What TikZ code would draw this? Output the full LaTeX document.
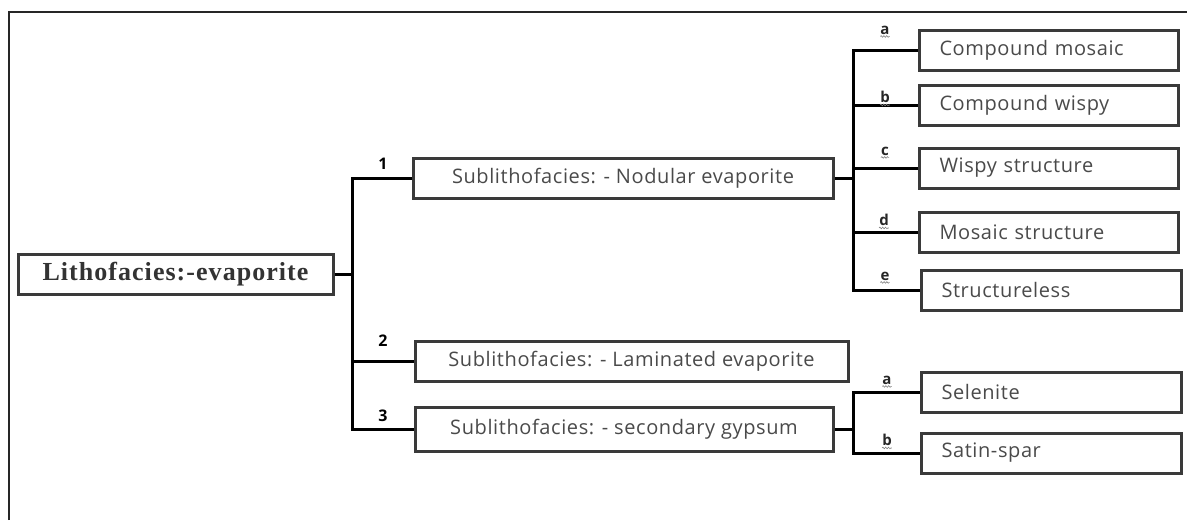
\documentclass[tikz,border=0pt]{standalone}
\usepackage{fontspec}
\usetikzlibrary{decorations.pathmorphing}
\newfontfamily\boxfont[LetterSpace=3]{Open Sans}
\newfontfamily\lblfont{Open Sans}
\newfontfamily\rootfont[LetterSpace=4]{Liberation Serif}
\definecolor{boxline}{HTML}{3A3A3A}
\definecolor{boxtext}{HTML}{4A4A4A}
\tikzset{
  frameline/.style={line width=2pt, black!85},
  link/.style={line width=3pt, black},
  rootbox/.style={draw=boxline, line width=3pt, rectangle, minimum width=315pt, minimum height=40pt,
    font=\rootfont\bfseries\fontsize{26}{28}\selectfont, text=black!80},
  subbox/.style={draw=boxline, line width=3pt, rectangle, minimum height=40pt,
    font=\boxfont\fontsize{20}{22}\selectfont, text=boxtext},
  leafbox/.style={draw=boxline, line width=3pt, rectangle, minimum height=40pt, anchor=west,
    inner xsep=20pt, text width=219pt, align=left,
    font=\boxfont\fontsize{20}{22}\selectfont, text=boxtext},
  numlbl/.style={font=\lblfont\bfseries\fontsize{16}{17}\selectfont, inner sep=0pt},
  letlbl/.style={font=\lblfont\bfseries\fontsize{15}{16}\selectfont, inner sep=0pt, text=black!85},
  squiggle/.style={draw=black!50, line width=0.6pt, decorate,
    decoration={snake, amplitude=0.8pt, segment length=2.8pt}},
}
\newcommand{\letmark}[3]{%
  \node[letlbl] (#1) at (#2) {#3};
  \draw[squiggle] ([yshift=-2pt]#1.south west) -- ([yshift=-2pt]#1.south east);}
\begin{document}
\begin{tikzpicture}[x=1pt, y=-1pt]
  \useasboundingbox (0,0) rectangle (1187,520);
  \fill[white] (0,0) rectangle (1187,520);
  % outer frame
  \draw[frameline] (9,520) -- (9,12) -- (1187,12);

  % root and first level
  \node[rootbox] (root) at (175.5,274) {Lithofacies:-evaporite};
  \node[subbox, minimum width=420pt] (s1) at (623,178) {Sublithofacies: - Nodular evaporite};
  \node[subbox, minimum width=433pt] (s2) at (631.5,361) {Sublithofacies: - Laminated evaporite};
  \node[subbox, minimum width=418pt, minimum height=44pt] (s3) at (624,429) {Sublithofacies: - secondary gypsum};

  % second level under nodular evaporite
  \node[leafbox] (n1) at (918,50) {Compound mosaic};
  \node[leafbox] (n2) at (918,105) {Compound wispy};
  \node[leafbox] (n3) at (918,168) {Wispy structure};
  \node[leafbox] (n4) at (918,232) {Mosaic structure};
  \node[leafbox, text width=220pt] (n5) at (920,290) {Structureless};

  % second level under secondary gypsum
  \node[leafbox, text width=220pt] (g1) at (920,392) {Selenite};
  \node[leafbox, text width=220pt] (g2) at (920,453) {Satin-spar};

  % connectors from the root
  \coordinate (t1) at (352,274);
  \draw[link] (root.east) -- (t1);
  \draw[link] (s1.west) -| (t1) |- (s3.west);
  \draw[link] (s2.west) -- (s2.west -| t1);

  % connectors from nodular evaporite
  \coordinate (t2) at (853,178);
  \draw[link] (s1.east) -- (t2);
  \draw[link] (n1.west) -| (t2) |- (n5.west);
  \draw[link] (n2.west) -- (n2.west -| t2);
  \draw[link] (n3.west) -- (n3.west -| t2);
  \draw[link] (n4.west) -- (n4.west -| t2);

  % connectors from secondary gypsum
  \coordinate (t3) at (853,429);
  \draw[link] (s3.east) -- (t3);
  \draw[link] (g1.west) -| (t3) |- (g2.west);

  % branch numbers
  \node[numlbl] (l1) at (383,164) {1};
  \node[numlbl] (l2) at (383,341) {2};
  \node[numlbl] (l3) at (383,416) {3};

  % branch letters
  \letmark{la}{885,30}{a}
  \letmark{lb}{885,97}{b}
  \letmark{lc}{885,151}{c}
  \letmark{ld}{884,220}{d}
  \letmark{le}{885,276}{e}
  \letmark{ga}{887,380}{a}
  \letmark{gb}{887,440}{b}
\end{tikzpicture}
\end{document}
